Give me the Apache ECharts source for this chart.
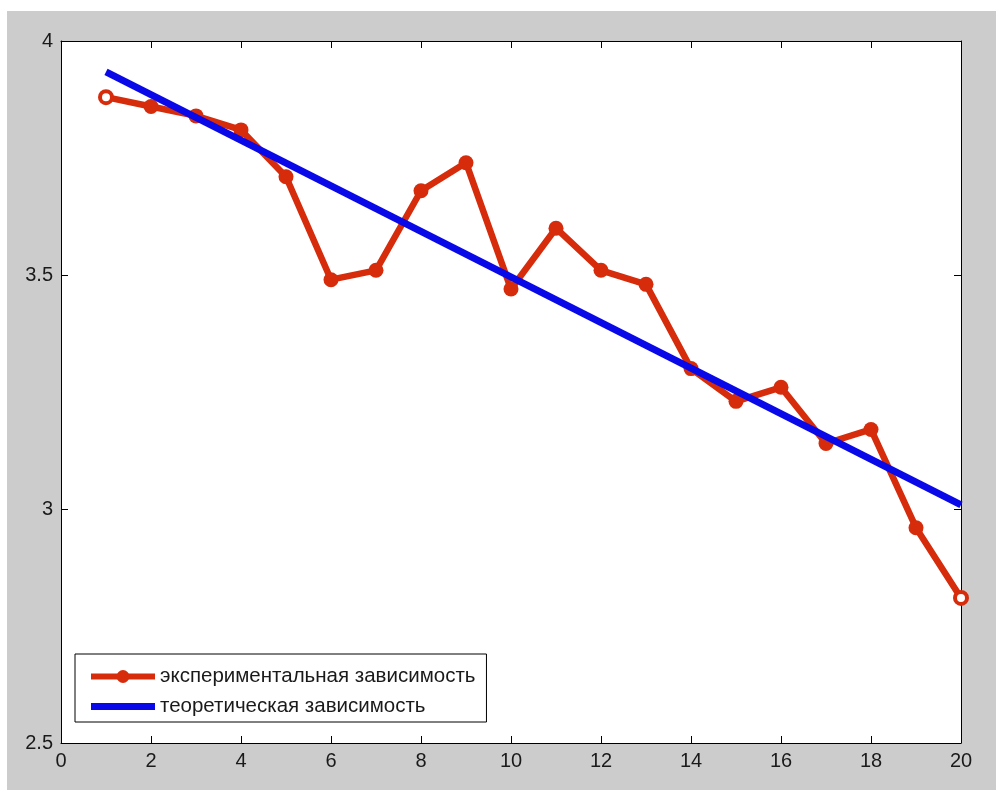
<!DOCTYPE html>
<html>
<head>
<meta charset="utf-8">
<script src="https://cdn.jsdelivr.net/npm/echarts@6/dist/echarts.min.js"></script>
<style>
  html, body { margin: 0; padding: 0; background: #fff; }
  #main { position: absolute; left: 7px; top: 11px; width: 989px; height: 779px; }
</style>
</head>
<body>
<div id="main"></div>
<script>
// experimental points
const xValues = [1, 2, 3, 4, 5, 6, 7, 8, 9, 10, 11, 12, 13, 14, 15, 16, 17, 18, 19, 20]
const expValues = [3.88, 3.86, 3.84, 3.81, 3.71, 3.49, 3.51, 3.68, 3.74, 3.47,
  3.60, 3.51, 3.48, 3.30, 3.23, 3.26, 3.14, 3.17, 2.96, 2.81]

// theoretical line end points
const theoryX = [1, 20]
const theoryValues = [3.934, 3.009]

const xTicks = { min: 0, max: 20, interval: 2 }
const yTicks = { min: 2.5, max: 4, interval: 0.5 }

const seriesNames = ['экспериментальная зависимость', 'теоретическая зависимость']

const red = '#d62c0c'
const blue = '#0808e8'
const font = 'Liberation Sans, Arial, sans-serif'

let chartDom = document.getElementById('main')
let myChart = echarts.init(chartDom)

const expData = xValues.map((x, i) => {
  const point = { value: [x, expValues[i]] }
  if (i === 0 || i === xValues.length - 1) {
    point.itemStyle = { color: '#fff', borderColor: red, borderWidth: 4 }
    point.symbolSize = 12
  }
  return point
})

const axisLine = { show: true, onZero: false, lineStyle: { color: '#000', width: 1 } }
const axisTick = { show: true, inside: true, length: 7, lineStyle: { color: '#000' } }
const label = { color: '#1a1a1a', fontSize: 20, fontFamily: font }

let option = {
  backgroundColor: '#cccccc',
  animation: false,
  grid: {
    left: 54, right: 35, top: 30, bottom: 47,
    show: true, backgroundColor: '#fff', borderWidth: 0
  },
  legend: {
    orient: 'vertical',
    left: 68, top: 643,
    data: [
      { name: seriesNames[0], lineStyle: { width: 6 } },
      { name: seriesNames[1], icon: 'path://M0,0L64,0L64,7L0,7Z', itemStyle: { color: blue } }
    ],
    backgroundColor: '#fff',
    borderColor: '#000',
    borderWidth: 1,
    borderRadius: 0,
    padding: [12, 11, 5, 13],
    itemWidth: 64,
    itemHeight: 16,
    itemGap: 9,
    textStyle: { fontSize: 20.5, color: '#1a1a1a', fontFamily: font }
  },
  xAxis: [
    {
      type: 'value', min: xTicks.min, max: xTicks.max, interval: xTicks.interval,
      position: 'bottom', axisLine, axisTick, splitLine: { show: false },
      axisLabel: Object.assign({ margin: 8 }, label)
    },
    {
      type: 'value', min: xTicks.min, max: xTicks.max, interval: xTicks.interval,
      position: 'top', axisLine, axisTick, splitLine: { show: false },
      axisLabel: { show: false }
    }
  ],
  yAxis: [
    {
      type: 'value', min: yTicks.min, max: yTicks.max, interval: yTicks.interval,
      position: 'left', axisLine, axisTick, splitLine: { show: false },
      axisLabel: Object.assign({ margin: 8 }, label)
    },
    {
      type: 'value', min: yTicks.min, max: yTicks.max, interval: yTicks.interval,
      position: 'right', axisLine, axisTick, splitLine: { show: false },
      axisLabel: { show: false }
    }
  ],
  series: [
    {
      name: seriesNames[0],
      type: 'line',
      data: expData,
      symbol: 'circle',
      symbolSize: 15,
      lineStyle: { color: red, width: 6.5 },
      itemStyle: { color: red },
      z: 2
    },
    {
      name: seriesNames[1],
      type: 'line',
      data: theoryX.map((x, i) => [x, theoryValues[i]]),
      showSymbol: false,
      symbol: 'none',
      lineStyle: { color: blue, width: 7 },
      itemStyle: { color: blue },
      z: 3
    }
  ]
}

option && myChart.setOption(option)
</script>
</body>
</html>
